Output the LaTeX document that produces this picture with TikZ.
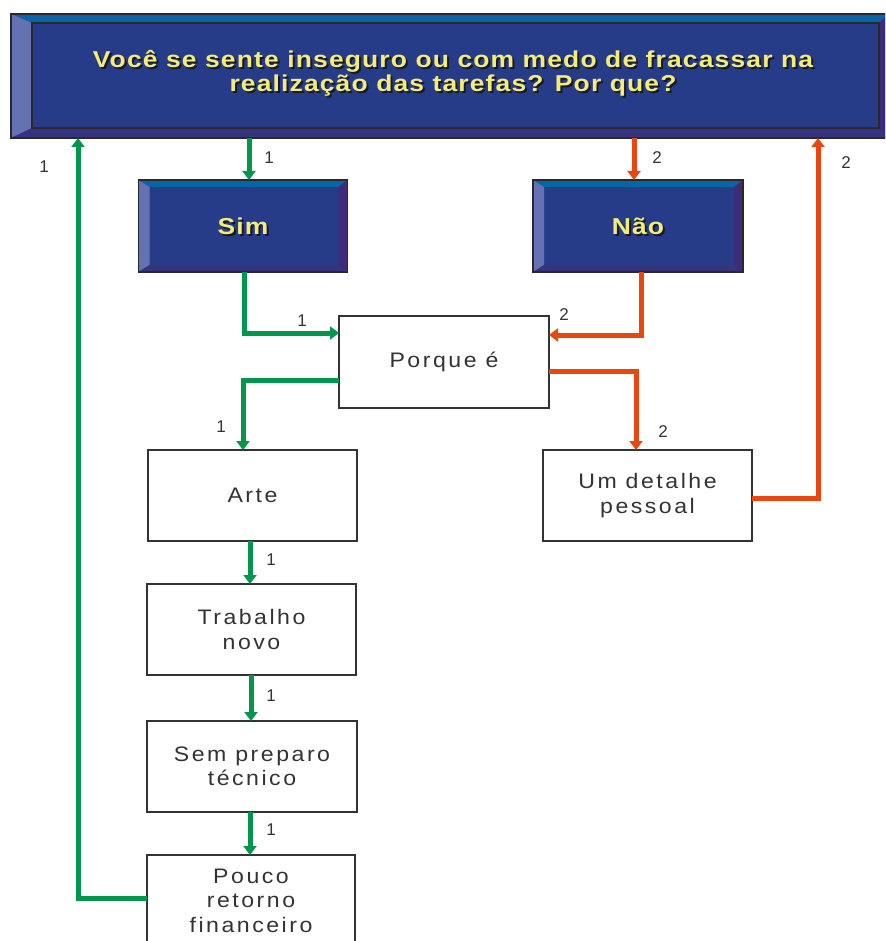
\documentclass[tikz,border=0pt]{standalone}
\usepackage{fontspec}
\setmainfont{Liberation Sans}
\newfontfamily\boxfont[LetterSpace=12,FakeStretch=1.1]{Liberation Sans}
\newfontfamily\ttlfont[LetterSpace=5,FakeStretch=1.15]{Liberation Sans}
\usetikzlibrary{arrows.meta,calc}
\definecolor{face}{RGB}{38,60,136}
\definecolor{bevtopc}{RGB}{10,100,168}
\definecolor{bevleftc}{RGB}{100,114,180}
\definecolor{bevbotc}{RGB}{54,52,126}
\definecolor{bevrightc}{RGB}{63,44,120}
\definecolor{edgec}{RGB}{40,40,45}
\definecolor{ylw}{RGB}{242,236,122}
\definecolor{shd}{RGB}{25,25,35}
\definecolor{grn}{RGB}{0,150,75}
\definecolor{org}{RGB}{232,72,16}
\definecolor{txt}{RGB}{51,51,51}
\newcommand\mybevels[5]{%
 \fill[bevtopc] (#1.north west) -- (#1.north east) -- ($(#1.north east)+(-#4,#3)$) -- ($(#1.north west)+(#2,#3)$) -- cycle;
 \fill[bevleftc] (#1.north west) -- ($(#1.north west)+(#2,#3)$) -- ($(#1.south west)+(#2,-#5)$) -- (#1.south west) -- cycle;
 \fill[bevbotc] (#1.south west) -- ($(#1.south west)+(#2,-#5)$) -- ($(#1.south east)+(-#4,-#5)$) -- (#1.south east) -- cycle;
 \fill[bevrightc] (#1.south east) -- ($(#1.south east)+(-#4,-#5)$) -- ($(#1.north east)+(-#4,#3)$) -- (#1.north east) -- cycle;
 \draw[edgec,line width=1.2pt] (#1.north west) rectangle (#1.south east);
}
\begin{document}
\begin{tikzpicture}[x=1pt,y=-1pt,
  bevbox/.style={fill=face, inner sep=0pt, outer sep=0pt},
  wbox/.style={draw=txt, line width=1.3pt, fill=white, inner sep=0pt, outer sep=0pt,
    minimum width=209pt, minimum height=91pt, align=center, text=txt,
    font=\boxfont\fontsize{21}{24.5}\selectfont},
  ytxt/.style={text=ylw, align=center, font=\ttlfont\bfseries\fontsize{23}{24}\selectfont},
  stxt/.style={text=shd, align=center, font=\ttlfont\bfseries\fontsize{23}{24}\selectfont},
  garrow/.style={draw=grn, line width=5pt, -{Triangle[width=13pt,length=9pt]}},
  oarrow/.style={draw=org, line width=5pt, -{Triangle[width=13pt,length=9pt]}},
  lbl/.style={text=txt, font=\fontsize{17}{20}\selectfont, inner sep=0pt}
]
\clip (0,0) rectangle (885,941);
\fill[white] (0,0) rectangle (885,941);

% top question box
\node[bevbox, minimum width=877pt, minimum height=124pt] (q) at (449.5,76) {};
\mybevels{q}{21}{9}{9}{10}
\draw[edgec,line width=1.2pt] ($(q.north west)+(21,9)$) rectangle ($(q.south east)+(-9,-10)$);
\node[stxt] at (455,75) {Você se sente inseguro ou com medo de fracassar na\\realização das tarefas? Por que?};
\node[ytxt] (qt) at (453,73) {Você se sente inseguro ou com medo de fracassar na\\realização das tarefas? Por que?};

% Sim / Não
\node[bevbox, minimum width=209pt, minimum height=92pt] (sim) at (243,226) {};
\mybevels{sim}{11}{7}{9}{7}
\node[stxt] at (245,228) {Sim};
\node[ytxt] (simt) at (243,226) {Sim};

\node[bevbox, minimum width=210pt, minimum height=92pt] (nao) at (638,226) {};
\mybevels{nao}{11}{7}{9}{7}
\node[stxt] at (640,228) {Não};
\node[ytxt] (naot) at (638,226) {Não};

% white boxes
\node[wbox, minimum width=210pt, minimum height=92pt] (porq) at (444,362) {Porque é};
\node[wbox] (arte) at (252.5,495.5) {Arte};
\node[wbox] (det) at (647.5,495.5) {Um detalhe\\pessoal};
\node[wbox] (trab) at (251.5,629.5) {Trabalho\\novo};
\node[wbox, minimum width=210pt] (sem) at (252,766.5) {Sem preparo\\técnico};
\node[wbox, minimum width=208pt] (pouco) at (251,900.5) {Pouco\\retorno\\financeiro};

% connectors
\draw[garrow] (q.south -| 249,0) -- (sim.north -| 249,0);
\draw[oarrow] (q.south -| 634,0) -- (nao.north -| 634,0);
\draw[garrow] (sim.south -| 244,0) |- (porq.west |- 0,333);
\draw[oarrow] (nao.south -| 641,0) |- (porq.east |- 0,335);
\draw[garrow] (porq.west |- 0,380) -| (arte.north -| 243,0);
\draw[oarrow] (porq.east |- 0,371) -| (det.north -| 636,0);
\draw[oarrow] (det.east |- 0,498) -| (q.south -| 818,0);
\draw[garrow] (arte.south -| 250,0) -- (trab.north -| 250,0);
\draw[garrow] (trab.south -| 251,0) -- (sem.north -| 251,0);
\draw[garrow] (sem.south -| 250,0) -- (pouco.north -| 250,0);
\draw[garrow] (pouco.west |- 0,898) -| (q.south -| 78,0);

% labels
\node[lbl] (l1) at (269,158) {1};
\node[lbl] (l2) at (657,158) {2};
\node[lbl] (l3) at (302,321) {1};
\node[lbl] (l4) at (564,315) {2};
\node[lbl] (l5) at (221,427) {1};
\node[lbl] (l6) at (663,432) {2};
\node[lbl] (l7) at (846,163) {2};
\node[lbl] (l8) at (44,167) {1};
\node[lbl] (l9) at (271,560) {1};
\node[lbl] (l10) at (271,696) {1};
\node[lbl] (l11) at (271,830) {1};
\end{tikzpicture}
\end{document}
